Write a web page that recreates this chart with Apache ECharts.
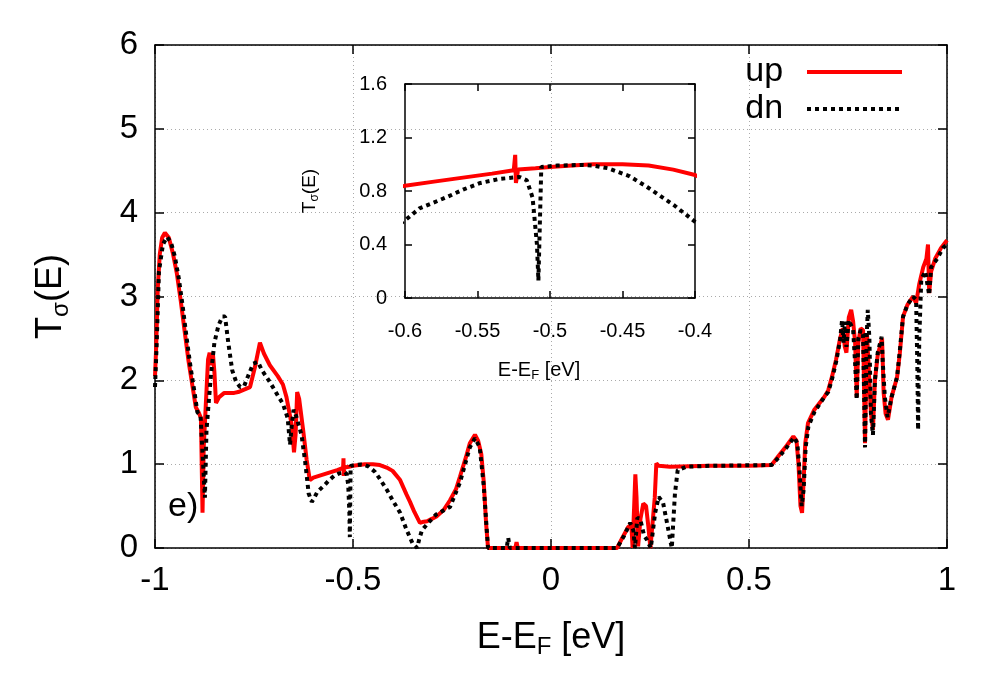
<!DOCTYPE html>
<html>
<head>
<meta charset="utf-8">
<script src="https://cdn.jsdelivr.net/npm/echarts@6/dist/echarts.min.js"></script>
<style>
  html, body { margin: 0; background: #fff; }
  #chart { width: 1000px; height: 700px; }
</style>
</head>
<body>
<div id="chart"></div>
<script>
// spin up transmission (energy / T)
const upE = [-1.000, -0.997, -0.993, -0.988, -0.982, -0.975, -0.965, -0.955, -0.945, -0.935,
  -0.925, -0.915, -0.905, -0.897, -0.890, -0.884, -0.880, -0.877, -0.872, -0.866,
  -0.862, -0.858, -0.854, -0.850, -0.846, -0.838, -0.825, -0.800, -0.790, -0.760,
  -0.748, -0.735, -0.725, -0.710, -0.690, -0.677, -0.668, -0.660, -0.654, -0.649,
  -0.645, -0.641, -0.636, -0.626, -0.617, -0.609, -0.600, -0.580, -0.560, -0.540,
  -0.525, -0.524, -0.5235, -0.522, -0.510, -0.500, -0.485, -0.470, -0.450, -0.432,
  -0.415, -0.400, -0.381, -0.365, -0.356, -0.345, -0.331, -0.325, -0.313, -0.300,
  -0.288, -0.270, -0.255, -0.240, -0.230, -0.215, -0.205, -0.192, -0.184, -0.176,
  -0.170, -0.164, -0.159, -0.090, -0.087, -0.084, 0.167, 0.180, 0.195, 0.203,
  0.206, 0.210, 0.213, 0.216, 0.220, 0.226, 0.233, 0.240, 0.246, 0.251,
  0.256, 0.262, 0.266, 0.272, 0.300, 0.400, 0.500, 0.557, 0.575, 0.595,
  0.612, 0.620, 0.625, 0.630, 0.634, 0.638, 0.642, 0.649, 0.665, 0.690,
  0.700, 0.710, 0.720, 0.730, 0.737, 0.742, 0.746, 0.752, 0.758, 0.763,
  0.768, 0.772, 0.776, 0.782, 0.788, 0.793, 0.798, 0.803, 0.808, 0.813,
  0.818, 0.825, 0.836, 0.840, 0.845, 0.851, 0.860, 0.874, 0.881, 0.889,
  0.900, 0.914, 0.922, 0.930, 0.940, 0.948, 0.952, 0.955, 0.960, 0.970,
  0.985, 1.000];
const upT = [2.05, 2.40, 3.10, 3.50, 3.70, 3.76, 3.70, 3.52, 3.28, 2.95,
  2.58, 2.22, 1.92, 1.68, 1.62, 1.55, 0.42, 1.20, 1.68, 2.25,
  2.33, 2.18, 2.33, 2.10, 1.73, 1.80, 1.85, 1.85, 1.86, 1.92,
  2.15, 2.45, 2.32, 2.18, 2.05, 1.95, 1.80, 1.60, 1.45, 1.14,
  1.35, 1.86, 1.78, 1.41, 1.05, 0.81, 0.84, 0.87, 0.90, 0.93,
  0.955, 1.07, 0.86, 0.96, 0.97, 0.98, 0.99, 1.00, 1.00, 0.99,
  0.96, 0.92, 0.81, 0.64, 0.55, 0.43, 0.30, 0.31, 0.32, 0.35,
  0.38, 0.46, 0.57, 0.70, 0.85, 1.08, 1.25, 1.35, 1.28, 1.12,
  0.80, 0.30, 0.00, 0.00, 0.07, 0.00, 0.00, 0.12, 0.25, 0.28,
  0.00, 0.50, 0.88, 0.60, 0.02, 0.35, 0.53, 0.50, 0.25, 0.00,
  0.00, 0.60, 1.01, 0.98, 0.97, 0.98, 0.98, 0.99, 1.10, 1.22,
  1.33, 1.28, 1.00, 0.50, 0.42, 0.80, 1.25, 1.49, 1.65, 1.80,
  1.88, 2.05, 2.25, 2.50, 2.62, 2.40, 2.33, 2.75, 2.84, 2.70,
  2.45, 1.80, 2.45, 2.62, 2.60, 1.25, 2.55, 2.55, 1.60, 1.41,
  2.00, 2.30, 2.50, 1.85, 1.60, 1.53, 1.80, 2.04, 2.33, 2.76,
  2.90, 3.00, 2.92, 3.15, 3.35, 3.45, 3.62, 3.04, 3.30, 3.45,
  3.58, 3.67];

// spin down transmission (energy / T)
const dnE = [-1.000, -0.996, -0.990, -0.980, -0.970, -0.960, -0.950, -0.940, -0.930, -0.920,
  -0.910, -0.900, -0.893, -0.885, -0.874, -0.870, -0.865, -0.858, -0.850, -0.840,
  -0.830, -0.823, -0.815, -0.805, -0.795, -0.785, -0.775, -0.765, -0.752, -0.740,
  -0.730, -0.710, -0.690, -0.677, -0.665, -0.659, -0.655, -0.650, -0.644, -0.630,
  -0.620, -0.612, -0.604, -0.600, -0.590, -0.571, -0.560, -0.548, -0.535, -0.521,
  -0.516, -0.512, -0.509, -0.508, -0.506, -0.495, -0.479, -0.470, -0.460, -0.445,
  -0.433, -0.414, -0.400, -0.381, -0.365, -0.350, -0.338, -0.333, -0.326, -0.310,
  -0.290, -0.255, -0.230, -0.205, -0.192, -0.180, -0.170, -0.162, -0.159, -0.112,
  -0.108, -0.104, 0.167, 0.185, 0.200, 0.208, 0.212, 0.218, 0.225, 0.235,
  0.242, 0.252, 0.263, 0.272, 0.283, 0.295, 0.305, 0.313, 0.320, 0.343,
  0.400, 0.557, 0.575, 0.595, 0.614, 0.622, 0.628, 0.633, 0.638, 0.643,
  0.650, 0.665, 0.690, 0.700, 0.710, 0.720, 0.730, 0.735, 0.739, 0.742,
  0.746, 0.752, 0.757, 0.763, 0.768, 0.772, 0.776, 0.782, 0.788, 0.793,
  0.797, 0.800, 0.804, 0.808, 0.813, 0.818, 0.825, 0.835, 0.838, 0.843,
  0.850, 0.860, 0.874, 0.881, 0.889, 0.900, 0.914, 0.922, 0.925, 0.927,
  0.930, 0.935, 0.945, 0.955, 0.960, 0.975, 0.990, 1.000];
const dnT = [1.92, 2.40, 3.30, 3.62, 3.71, 3.65, 3.48, 3.22, 2.88, 2.50,
  2.15, 1.85, 1.62, 1.58, 0.60, 1.40, 1.70, 2.10, 2.45, 2.65,
  2.76, 2.76, 2.45, 2.12, 1.98, 1.92, 1.93, 2.05, 2.20, 2.22,
  2.12, 1.98, 1.82, 1.72, 1.55, 1.23, 1.45, 1.65, 1.58, 1.35,
  1.00, 0.65, 0.55, 0.58, 0.67, 0.755, 0.81, 0.86, 0.89, 0.905,
  0.88, 0.75, 0.40, 0.13, 0.98, 0.99, 0.995, 0.99, 0.97, 0.91,
  0.83, 0.69, 0.57, 0.42, 0.22, 0.06, 0.00, 0.10, 0.21, 0.30,
  0.40, 0.49, 0.78, 1.20, 1.31, 1.20, 0.75, 0.20, 0.00, 0.00,
  0.12, 0.00, 0.00, 0.15, 0.30, 0.21, 0.00, 0.36, 0.35, 0.15,
  0.10, 0.00, 0.42, 0.61, 0.54, 0.25, 0.00, 0.65, 0.93, 0.97,
  0.98, 0.99, 1.08, 1.20, 1.32, 1.25, 0.90, 0.50, 0.70, 1.20,
  1.45, 1.62, 1.80, 1.86, 2.02, 2.22, 2.48, 2.72, 2.45, 2.70,
  2.40, 2.72, 2.70, 2.60, 2.20, 1.77, 2.50, 2.60, 2.55, 1.20,
  2.50, 2.84, 2.50, 1.60, 1.35, 2.00, 2.33, 2.52, 2.20, 1.80,
  1.56, 1.80, 2.04, 2.36, 2.76, 2.90, 3.00, 2.96, 2.20, 1.41,
  2.50, 3.20, 3.30, 3.02, 3.35, 3.45, 3.58, 3.62];

const upData = upE.map((e, i) => [e, upT[i]]);
const dnData = dnE.map((e, i) => [e, dnT[i]]);

const FONT = 'Liberation Sans';
const black = '#000';

// gnuplot-ish box: axis + mirrored axis, ticks inside
function boxAxis(extra, tickLen) {
  return Object.assign({
    type: 'value',
    axisLine: { onZero: false, lineStyle: { color: black, width: 1.5 } },
    axisTick: { inside: true, length: tickLen, lineStyle: { color: black, width: 1.5 } },
    axisLabel: { show: false },
    splitLine: { show: false }
  }, extra);
}
function label(size, margin) {
  return { color: black, fontSize: size, fontFamily: FONT, margin: margin };
}
// rich text name with a subscript
function subName(size, subSize, extra) {
  return Object.assign({
    rich: {
      n: { fontSize: size, fontFamily: FONT, color: black, lineHeight: size * 1.2 },
      s: { fontSize: subSize, fontFamily: FONT, color: black, lineHeight: subSize * 0.9, verticalAlign: 'bottom' }
    }
  }, extra || {});
}
const mainSplit = { show: true, lineStyle: { color: '#aaa', width: 1, type: [1, 3] } };

const myChart = echarts.init(document.getElementById('chart'));

const option = {
  animation: false,
  backgroundColor: '#fff',
  grid: [
    { left: 155, top: 45, width: 792, height: 503, outerBoundsMode: 'none' },
    { left: 405, top: 84, width: 290, height: 214, outerBoundsMode: 'none' }
  ],
  xAxis: [
    boxAxis({
      gridIndex: 0, position: 'bottom', min: -1, max: 1, interval: 0.5,
      axisLabel: label(33, 16),
      splitLine: mainSplit,
      name: '{n|E-E}{s|F}{n| [eV]}', nameLocation: 'middle', nameGap: 68,
      nameTextStyle: subName(36, 24)
    }, 9),
    boxAxis({ gridIndex: 0, position: 'top', min: -1, max: 1, interval: 0.5 }, 9),
    boxAxis({
      gridIndex: 1, position: 'bottom', min: -0.6, max: -0.4, interval: 0.05,
      axisLabel: label(20, 23),
      name: '{n|E-E}{s|F}{n| [eV]}', nameLocation: 'middle', nameGap: 60,
      nameTextStyle: subName(20, 13, { padding: [0, 22, 0, 0] })
    }, 7),
    boxAxis({ gridIndex: 1, position: 'top', min: -0.6, max: -0.4, interval: 0.05 }, 7)
  ],
  yAxis: [
    boxAxis({
      gridIndex: 0, position: 'left', min: 0, max: 6, interval: 1,
      axisLabel: label(33, 17),
      splitLine: mainSplit,
      name: '{n|T}{s|σ}{n|(E)}', nameLocation: 'middle', nameGap: 82,
      nameTextStyle: subName(36, 24)
    }, 9),
    boxAxis({ gridIndex: 0, position: 'right', min: 0, max: 6, interval: 1 }, 9),
    boxAxis({
      gridIndex: 1, position: 'left', min: 0, max: 1.6, interval: 0.4,
      axisLabel: label(20, 18),
      name: '{n|T}{s|σ}{n|(E)}', nameLocation: 'middle', nameGap: 84,
      nameTextStyle: subName(19, 12)
    }, 7),
    boxAxis({ gridIndex: 1, position: 'right', min: 0, max: 1.6, interval: 0.4 }, 7)
  ],
  legend: {
    data: ['up', 'dn'],
    orient: 'vertical',
    right: 96,
    top: 55,
    align: 'right',
    padding: 0,
    itemWidth: 95,
    itemHeight: 16,
    itemGap: 3,
    itemStyle: { opacity: 0 },
    lineStyle: { width: 4 },
    formatter: (name) => name + '  ',
    textStyle: { fontSize: 34, lineHeight: 34, fontFamily: FONT, color: black }
  },
  graphic: [
    {
      type: 'text', left: 168, top: 490,
      style: { text: 'e)', fontSize: 34, fontFamily: FONT, fill: black }
    }
  ],
  series: [
    {
      name: 'up', type: 'line', xAxisIndex: 0, yAxisIndex: 0,
      data: upData, symbol: 'none', z: 3,
      itemStyle: { color: '#ff0000' },
      lineStyle: { color: '#ff0000', width: 4 }
    },
    {
      name: 'dn', type: 'line', xAxisIndex: 0, yAxisIndex: 0,
      data: dnData, symbol: 'none', z: 4,
      itemStyle: { color: black },
      lineStyle: { color: black, width: 4, type: [4, 4], cap: 'butt' }
    },
    {
      name: 'up', type: 'line', xAxisIndex: 2, yAxisIndex: 2,
      data: upData, symbol: 'none', z: 3,
      itemStyle: { color: '#ff0000' },
      lineStyle: { color: '#ff0000', width: 4 }
    },
    {
      name: 'dn', type: 'line', xAxisIndex: 2, yAxisIndex: 2,
      data: dnData, symbol: 'none', z: 4,
      itemStyle: { color: black },
      lineStyle: { color: black, width: 4, type: [4, 4], cap: 'butt' }
    }
  ]
};

myChart.setOption(option);
</script>
</body>
</html>
